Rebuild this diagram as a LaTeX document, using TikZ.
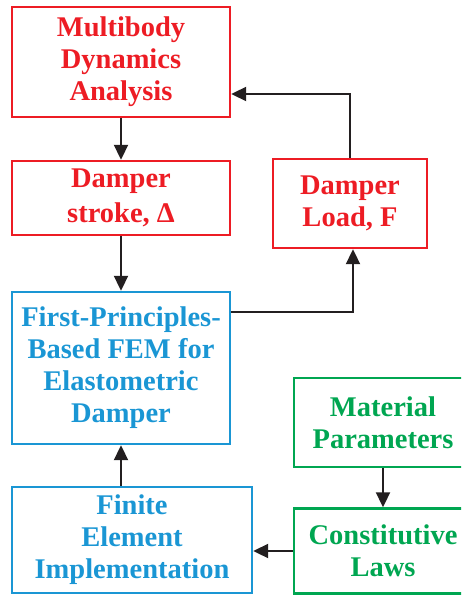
\documentclass[tikz,border=0pt]{standalone}
\usepackage{fontspec}
\setmainfont{Liberation Serif}
\usetikzlibrary{arrows.meta,calc}
\definecolor{boxred}{HTML}{ED1C24}
\definecolor{boxblue}{HTML}{1A96D4}
\definecolor{boxgreen}{HTML}{00A651}
\definecolor{arrowgray}{HTML}{231F20}
\tikzset{
  block/.style={draw, line width=2.4pt, rectangle, inner sep=0pt, align=center,
    font=\bfseries\fontsize{28.5}{32}\selectfont},
  redblock/.style={block, draw=boxred, text=boxred},
  blueblock/.style={block, draw=boxblue, text=boxblue},
  greenblock/.style={block, draw=boxgreen, text=boxgreen},
  flow/.style={draw=arrowgray, line width=2pt,
    -{Triangle[width=14pt,length=15pt]}},
}
\begin{document}
\begin{tikzpicture}[x=1pt,y=1pt]
\useasboundingbox (0,0) rectangle (461,-596);
\begin{scope}
\clip (0,0) rectangle (461,-596);
% top chain: dynamics analysis and damper stroke
\node[redblock, minimum width=218pt, minimum height=110pt] (mbd) at (121,-62)
  {Multibody\\Dynamics\\Analysis};
\node[redblock, minimum width=218pt, minimum height=74pt] (stroke) at (121,-198)
  {Damper\\[3pt]stroke, Δ};
\node[redblock, minimum width=154pt, minimum height=89pt] (load) at (350,-203.5)
  {Damper\\Load, F};
% finite element model
\node[blueblock, minimum width=218pt, minimum height=152pt] (fem) at (121,-368)
  {First-Principles-\\Based FEM for\\Elastometric\\Damper};
\node[blueblock, minimum width=240pt, minimum height=106pt] (impl) at (132,-540)
  {Finite\\Element\\Implementation};
% material side
\node[greenblock, minimum width=178pt, minimum height=89pt] (mat) at (383,-422.5)
  {Material\\Parameters};
\node[greenblock, minimum width=178pt, minimum height=85pt] (const) at (383,-551)
  {Constitutive\\Laws};
\end{scope}
% connectors
\draw[flow] (mbd.south) -- (stroke.north);
\draw[flow] (stroke.south) -- (fem.north);
\draw[flow] ([yshift=-21pt]fem.north east) -| ([xshift=3pt]load.south);
\draw[flow] (load.north) |- ([yshift=-32pt]mbd.east);
\draw[flow] (mat.south) -- (const.north);
\draw[flow] (const.west) -- (const.west -| impl.east);
\draw[flow] (impl.north -| fem.south) -- (fem.south);
\end{tikzpicture}
\end{document}
